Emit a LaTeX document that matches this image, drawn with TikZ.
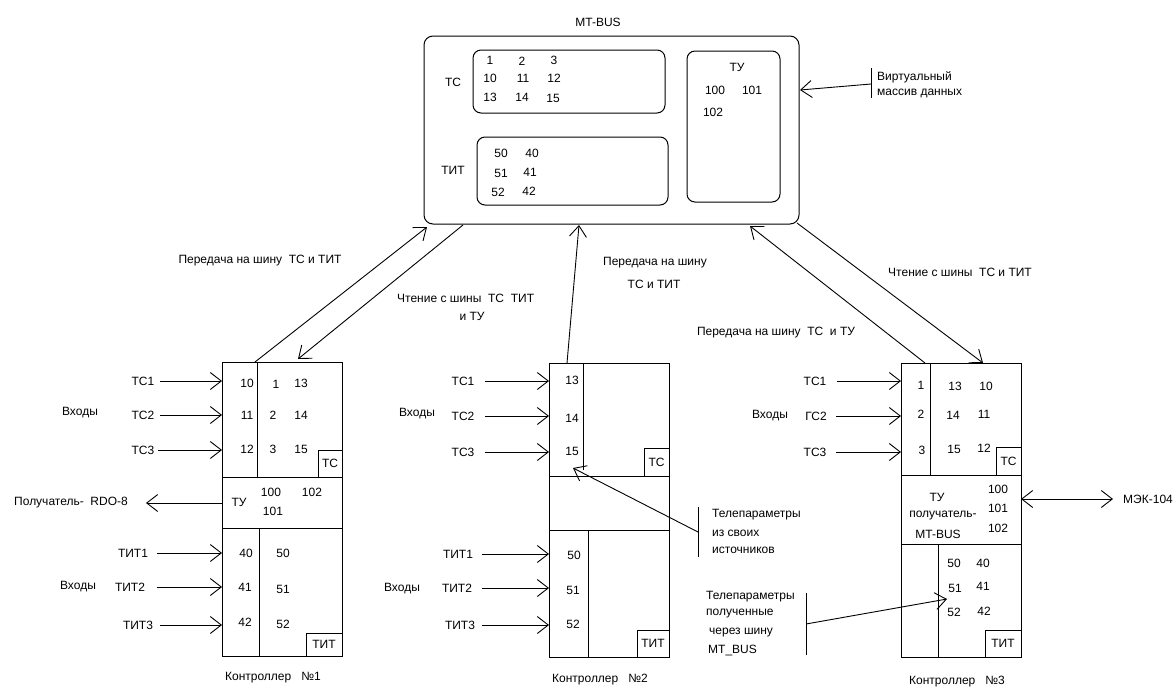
\documentclass[tikz,border=0pt]{standalone}
\usepackage{fontspec}
\setmainfont{Liberation Sans}
\usetikzlibrary{arrows.meta}
\newcommand\fs{\fontsize{12}{14}\selectfont}
\begin{document}
\begin{tikzpicture}[x=1pt,y=-1pt,
  box/.style={draw,line width=1pt,inner sep=0pt,outer sep=0pt},
  t/.style={inner sep=0pt,font=\fs},
  tl/.style={inner sep=0pt,font=\fs,anchor=west},
  ar/.style={line width=0.9pt,-{Straight Barb[length=11pt,width=17pt,line width=0.9pt]}},
  dar/.style={line width=0.9pt,{Straight Barb[length=11pt,width=17pt,line width=0.9pt]}-{Straight Barb[length=11pt,width=17pt,line width=0.9pt]}},
  ln/.style={line width=1pt}]
\useasboundingbox (0,0) rectangle (1174,686);
\fill[white] (0,0) rectangle (1174,686);

% ---------------- MT-BUS ----------------
\node[t] (bustitle) at (598,22) {MT-BUS};
\node[box,rounded corners=9pt,anchor=north west,minimum width=375pt,minimum height=188pt] (bus) at (424,36) {};
\node[box,rounded corners=8pt,anchor=north west,minimum width=192pt,minimum height=63pt] (bustc) at (473,50) {};
\node[box,rounded corners=8pt,anchor=north west,minimum width=191pt,minimum height=68pt] (bustit) at (477,137) {};
\node[box,rounded corners=8pt,anchor=north west,minimum width=93pt,minimum height=151pt] (bustu) at (687,51) {};
\node[t] (bustcl) at (453,82) {ТС};
\node[t] (bustitl) at (453,170) {ТИТ};
\node[t] (bustul) at (737,67) {ТУ};
\foreach \v/\x/\y [count=\i] in {1/490/60,2/522/61,3/554/60,10/490/78,11/523/78,12/554/78,13/490/97,14/522/97,15/553/98,
  50/501/153,40/532/153,51/501/173,41/530/172,52/498/192,42/529/191,100/715/90,101/752/90,102/713/112}
  \node[t] (bn\i) at (\x,\y) {\v};
% virtual array
\coordinate (vbar1) at (871,68);
\coordinate (vbar2) at (871,98);
\coordinate (vfrom) at (871,84);
\coordinate (vto) at (800,90);
\draw[ln] (vbar1) -- (vbar2);
\draw[ar] (vfrom) -- (vto);
\node[tl] (virt1) at (877,77) {Виртуальный};
\node[tl] (virt2) at (877,93) {массив данных};

% ---------------- Controller 1 ----------------
\node[box,anchor=north west,minimum width=120pt,minimum height=294pt] (c1) at (222,362) {};
\draw[ln] (257,362) -- (257,477);
\draw[ln] (222,477) -- (342,477);
\draw[ln] (222,528) -- (342,528);
\draw[ln] (259,528) -- (259,656);
\node[box,t,anchor=south east,minimum width=24pt,minimum height=27pt] (c1tc) at (342,477) {ТС};
\node[box,t,anchor=south east,minimum width=36pt,minimum height=23pt] (c1tit) at (342,656) {ТИТ};
\foreach \v/\x/\y [count=\i] in {10/247/383,1/276/384,13/301/383,11/247/415,2/273/415,14/301/415,12/247/449,3/273/449,15/301/449,
  100/271/492,101/273/511,102/312/492,40/246/553,50/283/553,41/245/587,51/283/589,42/245/622,52/283/624}
  \node[t] (an\i) at (\x,\y) {\v};
\node[t] (c1tu) at (239,502) {ТУ};
\foreach \lab/\tx/\ty/\sx [count=\i] in {ТС1/143/381/160,ТС2/143/415/160,ТС3/143/450/158,ТИТ1/133/553/157,ТИТ2/130/587/157,ТИТ3/138/625/160}{
  \node[t] (ain\i) at (\tx,\ty) {\lab};
  \coordinate (ais\i) at (\sx,\ty);
  \coordinate (aie\i) at (222,\ty);
  \draw[ar] (ais\i) -- (aie\i);
}
\node[t] (c1in1) at (80,413) {Входы};
\node[t] (c1in2) at (78,587) {Входы};
\coordinate (c1tuout) at (222,503);
\coordinate (c1tuend) at (146,503);
\draw[ar] (c1tuout) -- (c1tuend);
\node[t] (rdo) at (71,503) {Получатель-\ \ RDO-8};
\node[t] (c1cap) at (273,678) {Контроллер\ \ \ №1};

% ---------------- Controller 2 ----------------
\node[box,anchor=north west,minimum width=120pt,minimum height=294pt] (c2) at (549,363) {};
\draw[ln] (583,363) -- (583,470);
\draw[ln] (549,476) -- (669,476);
\draw[ln] (549,530) -- (669,530);
\draw[ln] (588,530) -- (588,657);
\node[box,t,anchor=south east,minimum width=25pt,minimum height=28pt] (c2tc) at (669,476) {ТС};
\node[box,t,anchor=south east,minimum width=32pt,minimum height=27pt] (c2tit) at (669,657) {ТИТ};
\foreach \v/\x/\y [count=\i] in {13/572/380,14/572/418,15/572/451,50/574/555,51/573/590,52/573/624}
  \node[t] (bbn\i) at (\x,\y) {\v};
\foreach \lab/\tx/\ty/\sx [count=\i] in {ТС1/463/381/485,ТС2/463/416/485,ТС3/463/452/485,ТИТ1/458/554/482,ТИТ2/457/588/482,ТИТ3/460/625/482}{
  \node[t] (bin\i) at (\tx,\ty) {\lab};
  \coordinate (bis\i) at (\sx,\ty);
  \coordinate (bie\i) at (549,\ty);
  \draw[ar] (bis\i) -- (bie\i);
}
\node[t] (c2in1) at (417,414) {Входы};
\node[t] (c2in2) at (402,589) {Входы};
\coordinate (own1) at (698,507);
\coordinate (own2) at (698,557);
\coordinate (ownfrom) at (698,532);
\coordinate (ownto) at (573,468);
\draw[ln] (own1) -- (own2);
\draw[ar] (ownfrom) -- (ownto);
\node[tl] (own3) at (712,515) {Телепараметры};
\node[tl] (own4) at (712,533) {из своих};
\node[tl] (own5) at (712,550) {источников};
\node[t] (c2cap) at (600,680) {Контроллер\ \ \ №2};

% ---------------- Controller 3 ----------------
\node[box,anchor=north west,minimum width=120pt,minimum height=294pt] (c3) at (901,363) {};
\draw[ln] (930,363) -- (930,475);
\draw[ln] (901,475) -- (1021,475);
\draw[ln] (901,544) -- (1021,544);
\draw[ln] (938,544) -- (938,657);
\node[box,t,anchor=south east,minimum width=25pt,minimum height=28pt] (c3tc) at (1021,475) {ТС};
\node[box,t,anchor=south east,minimum width=36pt,minimum height=27pt] (c3tit) at (1021,657) {ТИТ};
\foreach \v/\x/\y [count=\i] in {1/921/385,13/955/386,10/986/386,2/921/414,14/953/415,11/984/414,3/922/450,15/954/449,12/984/448,
  100/998/489,101/998/508,102/998/528,50/954/563,40/983/563,51/955/588,41/983/586,52/954/612,42/984/611}
  \node[t] (cn\i) at (\x,\y) {\v};
\node[t] (c3tu1) at (937,497) {ТУ};
\node[t] (c3tu2) at (943,516) {получатель-};
\node[t] (c3tu3) at (938,534) {MT-BUS};
\foreach \lab/\tx/\ty/\sx [count=\i] in {ТС1/815/381/837,ГС2/816/416/836,ТС3/815/452/836}{
  \node[t] (cin\i) at (\tx,\ty) {\lab};
  \coordinate (cis\i) at (\sx,\ty);
  \coordinate (cie\i) at (901,\ty);
  \draw[ar] (cis\i) -- (cie\i);
}
\node[t] (c3in1) at (770,416) {Входы};
\coordinate (mekA) at (1021,499);
\coordinate (mekB) at (1113,499);
\draw[dar] (mekA) -- (mekB);
\node[tl] (mek) at (1123,499) {МЭК-104};
\coordinate (rcv1) at (806,593);
\coordinate (rcv2) at (806,655);
\coordinate (rcvfrom) at (806,624);
\coordinate (rcvto) at (947,599);
\draw[ln] (rcv1) -- (rcv2);
\draw[ar] (rcvfrom) -- (rcvto);
\node[tl] (rcv3) at (706,597) {Телепараметры};
\node[tl] (rcv4) at (706,614) {полученные};
\node[tl] (rcv5) at (709,633) {через шину};
\node[tl] (rcv6) at (708,650) {MT\_BUS};
\node[t] (c3cap) at (957,682) {Контроллер\ \ \ №3};

% ---------------- Bus links ----------------
\coordinate (l1a) at (255,362);  \coordinate (l1b) at (427,227);
\coordinate (l2a) at (463,225);  \coordinate (l2b) at (298,359);
\coordinate (l3a) at (567,363);  \coordinate (l3b) at (579,225);
\coordinate (l4a) at (925,363);  \coordinate (l4b) at (750,226);
\coordinate (l5a) at (797,223);  \coordinate (l5b) at (983,363);
\draw[ar] (l1a) -- (l1b);
\draw[ar] (l2a) -- (l2b);
\draw[ar] (l3a) -- (l3b);
\draw[ar] (l4a) -- (l4b);
\draw[ar] (l5a) -- (l5b);
\node[t] (lab1) at (260,261) {Передача на шину\ \ ТС и ТИТ};
\node[tl] (lab2) at (397,298) {Чтение с шины\ \ ТС\ \ ТИТ};
\node[t] (lab2b) at (472,316) {и ТУ};
\node[t] (lab3) at (655,263) {Передача на шину};
\node[t] (lab3b) at (654,284) {ТС и ТИТ};
\node[t] (lab4) at (776,333) {Передача на шину\ \ ТС\ \ и ТУ};
\node[tl] (lab5) at (888,272) {Чтение с шины\ \ ТС и ТИТ};
\end{tikzpicture}
\end{document}
